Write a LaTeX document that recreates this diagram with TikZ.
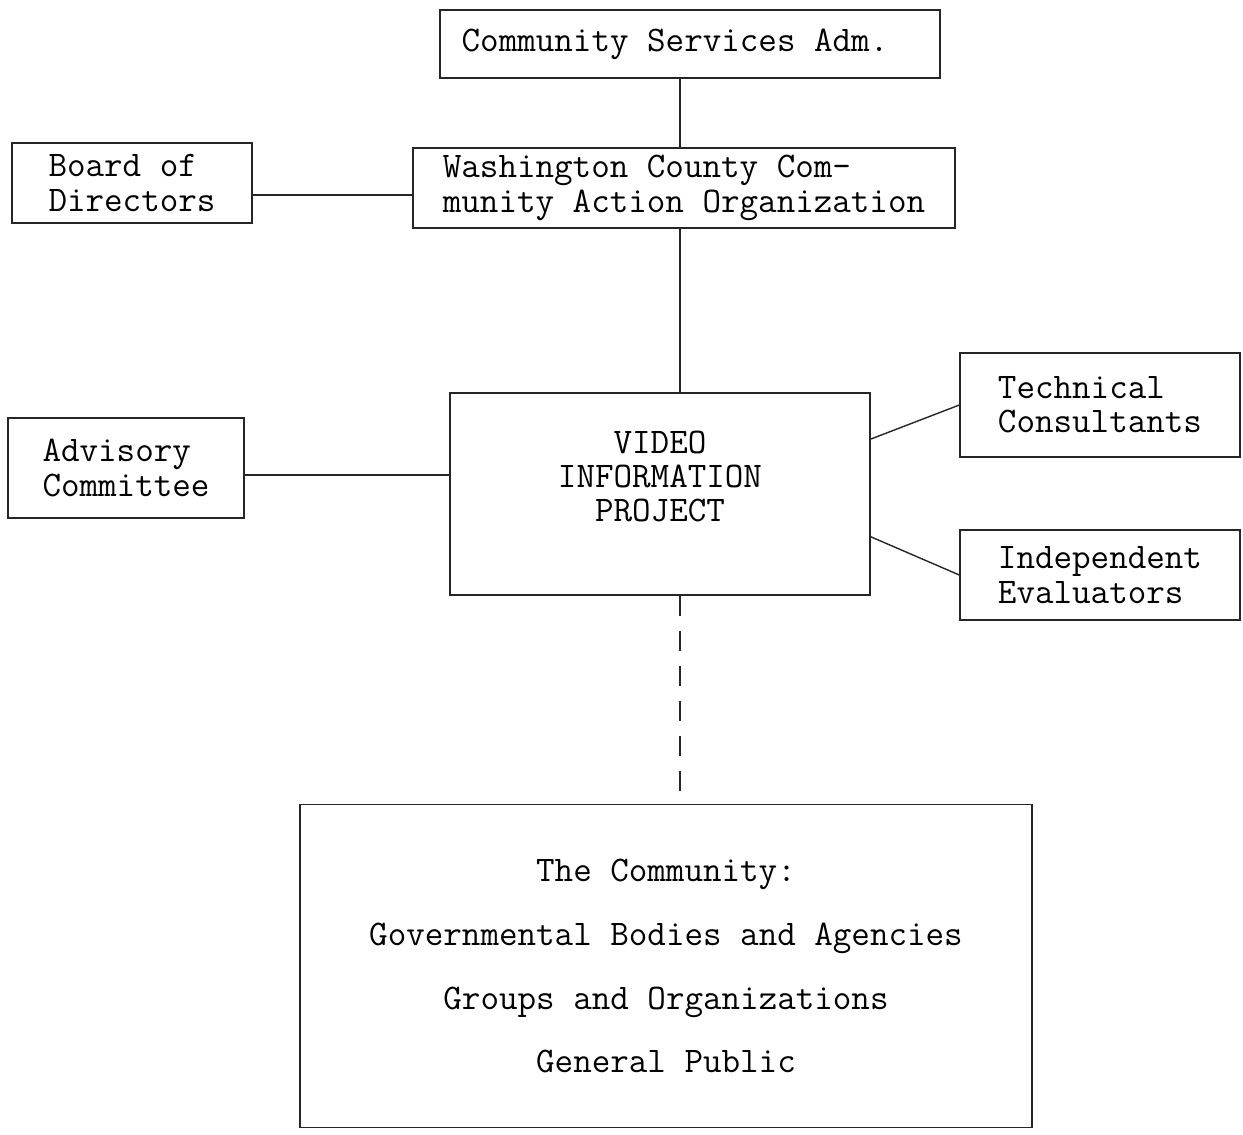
\documentclass[tikz,border=0pt]{standalone}
\usetikzlibrary{calc}
\begin{document}
\begin{tikzpicture}[x=0.02cm,y=-0.02cm,
  box/.style={draw=black!85,line width=0.8pt,inner sep=0pt,font=\ttfamily\fontsize{20.5}{19.5}\selectfont,align=left},
  link/.style={draw=black!85,line width=0.8pt}]
\useasboundingbox (0,0) rectangle (1243,1134);
\node[box,minimum width=10cm,minimum height=1.36cm] (csa) at (690,44) {Community Services Adm.\hspace{0.6cm}};
\node[box,minimum width=10.84cm,minimum height=1.6cm] (wcc) at (684,188) {Washington County Com-\\munity Action Organization};
\node[box,minimum width=4.8cm,minimum height=1.6cm] (board) at (132,183) {Board of\\Directors};
\node[box,minimum width=4.72cm,minimum height=2cm] (adv) at (126,468) {Advisory\\Committee};
\node[box,minimum width=8.4cm,minimum height=4.04cm,align=center] (vip) at (660,494) {VIDEO\\INFORMATION\\PROJECT\\[0.02cm]};
\node[box,minimum width=5.6cm,minimum height=2.08cm] (tech) at (1100,405) {Technical \\Consultants};
\node[box,minimum width=5.6cm,minimum height=1.8cm] (ind) at (1100,575) {Independent\\Evaluators };
\node[box,minimum width=14.64cm,minimum height=6.46cm,align=center,font=\ttfamily\fontsize{20.5}{36.4}\selectfont] (com) at (666,966) {The Community:\\Governmental Bodies and Agencies\\Groups and Organizations\\General Public};
\coordinate (spine) at (680,0);
\draw[link] (csa.south -| spine) -- (wcc.north -| spine);
\draw[link] (wcc.south -| spine) -- (vip.north -| spine);
\draw[link] ([yshift=-0.24cm]board.east) -- ([yshift=-0.24cm]board.east -| wcc.west);
\draw[link] ([yshift=-0.14cm]adv.east) -- ([yshift=-0.14cm]adv.east -| vip.west);
\draw[link] (tech.west) -- ($(vip.north east)!0.23!(vip.south east)$);
\draw[link] (ind.west) -- ($(vip.north east)!0.71!(vip.south east)$);
\draw[link,dash pattern=on 0.4cm off 0.3cm] (vip.south -| spine) -- (com.north -| spine);
\end{tikzpicture}
\end{document}
